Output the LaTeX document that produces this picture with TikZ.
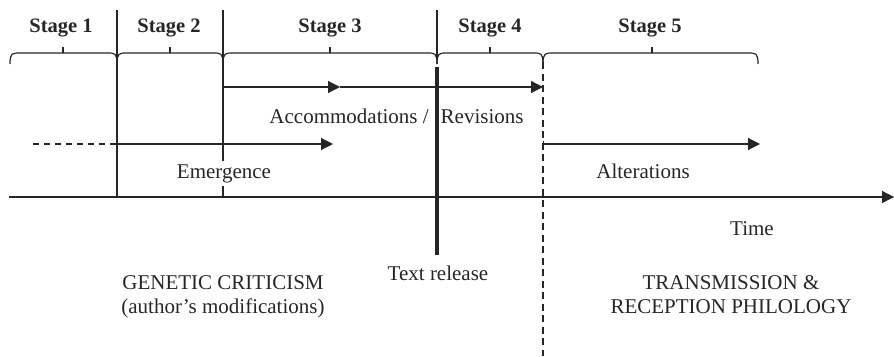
\documentclass[tikz,border=0pt]{standalone}
\usepackage{fontspec}
\setmainfont{Liberation Serif}
\usetikzlibrary{arrows.meta}
\begin{document}
\begin{tikzpicture}[x=1pt,y=-1pt,
  thin line/.style={line width=1.2pt, draw=black!85},
  thick line/.style={line width=3.6pt, draw=black!85},
  dash line/.style={line width=1.2pt, draw=black!85, dash pattern=on 7pt off 4.5pt},
  arr/.style={-{Triangle[length=12pt,width=12pt]}},
  lbl/.style={font=\fontsize{21}{24}\selectfont, text=black!85, inner sep=0pt, anchor=base},
  stagelbl/.style={lbl, font=\fontsize{20.5}{24}\selectfont\bfseries},
  bracepath/.style={line width=1.2pt, draw=black!85}
]
\useasboundingbox (0,0) rectangle (894,356);

% stage labels
\node[stagelbl] (s1) at (61,32) {Stage 1};
\node[stagelbl] (s2) at (169,32) {Stage 2};
\node[stagelbl] (s3) at (330,32) {Stage 3};
\node[stagelbl] (s4) at (490,32) {Stage 4};
\node[stagelbl] (s5) at (650,32) {Stage 5};

% braces
\foreach \a/\b/\m in {10/117/63, 117/223/170, 223/437/330, 437/543/490, 543/758/652}{
  \draw[bracepath] (\a,64) .. controls (\a,53) and (\a+2,53) .. (\a+10,53) -- (\b-10,53)
     .. controls (\b-2,53) and (\b,53) .. (\b,64);
  \draw[bracepath] (\m,53) -- (\m,47);
}

% coordinates
\coordinate (d1t) at (117,10); \coordinate (d1b) at (117,197);
\coordinate (d2t) at (223,10); \coordinate (d2b) at (223,197);
\coordinate (d3t) at (437,10); \coordinate (d3b) at (437,60);
\coordinate (relt) at (437,67); \coordinate (relb) at (437,255);
\coordinate (dvt) at (543,62); \coordinate (dvb) at (543,356);

\coordinate (acc0) at (223,87); \coordinate (accm) at (340,87); \coordinate (acc1) at (543,87);
\coordinate (em0) at (33,144); \coordinate (em1) at (117,144); \coordinate (em2) at (333,144);
\coordinate (al0) at (543,144); \coordinate (al1) at (760,144);
\coordinate (t0) at (9,197); \coordinate (t1) at (894,197);

% dividers
\draw[thin line] (d1t) -- (d1b);
\draw[thin line] (d2t) -- (d2b);
\draw[thin line] (d3t) -- (d3b);
\draw[dash line] (dvt) -- (dvb);

% time axis
\draw[thin line, arr] (t0) -- (t1);

% accommodations arrow
\draw[thin line, arr] (acc0) -- (accm);
\draw[thin line, arr] (accm) -- (acc1);

% emergence arrow
\draw[dash line, dash pattern=on 6pt off 5pt] (em0) -- (em1);
\draw[thin line, arr] (em1) -- (em2);

% alterations arrow
\draw[thin line, {Bar[width=7pt]}-{Triangle[length=12pt,width=12pt]}] (al0) -- (al1);

% text release
\draw[thick line] (relt) -- (relb);

% labels
\node[lbl] (acc) at (396.5,123) {Accommodations /\hspace{12pt}Revisions};
\node[lbl, fill=white, inner xsep=2pt, inner ysep=3pt] (em) at (224,178) {Emergence};
\node[lbl] (al) at (643,178) {Alterations};
\node[lbl] (time) at (752,235) {Time};
\node[lbl] (rel) at (438,280) {Text release};
\node[lbl, align=center] (gc) at (223,313) {GENETIC CRITICISM\\(author’s modifications)};
\node[lbl, align=center] (tr) at (731,313) {TRANSMISSION \&\\RECEPTION PHILOLOGY};
\end{tikzpicture}
\end{document}
